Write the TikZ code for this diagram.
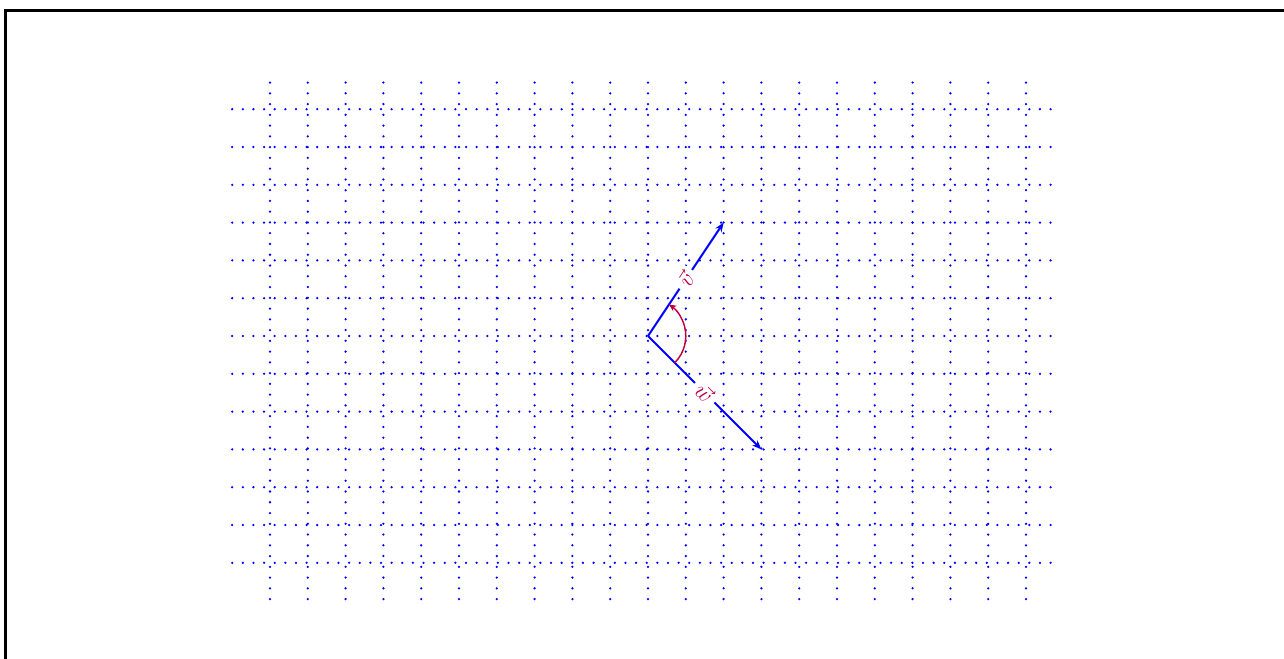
\documentclass[tikz,border=0pt]{standalone}
\usetikzlibrary{arrows.meta}
\begin{document}
\begin{tikzpicture}[x=1cm,y=1cm,
  griddot/.style={blue, line width=1.9pt, line cap=round, dash pattern=on 0pt off 8pt},
  vgriddot/.style={griddot, dash pattern=on 0pt off 8.1pt},
  vec/.style={blue, line width=1.5pt, -{Stealth[length=7pt,width=5.5pt]}},
  lbl/.style={midway, sloped, fill=white, text=purple, inner sep=4pt, font=\LARGE},
  anglearc/.style={purple, line width=1.1pt, -{Stealth[length=5.5pt,width=5pt]}}]
\useasboundingbox (-17.143,-8.519) rectangle (16.825,8.889);
\draw[line width=2.25pt] (-16.997,8.611) rectangle (17.5,-9.2);
\foreach \x in {-10,...,10} \draw[vgriddot] (\x,-6.96) -- (\x,6.8);
\foreach \y in {-6,...,6} \draw[griddot] (-11,\y) -- (10.75,\y);
\coordinate (O) at (0,0);
\coordinate (V) at (2,3);
\coordinate (W) at (3,-3);
\coordinate (A) at (-45:1);
\draw[vec] (O) -- node[lbl] (lv) {$\vec v$} (V);
\draw[vec] (O) -- node[lbl] (lw) {$\vec w$} (W);
\draw[anglearc] (A) arc[start angle=-45, end angle=56.31, radius=1];
\end{tikzpicture}
\end{document}
